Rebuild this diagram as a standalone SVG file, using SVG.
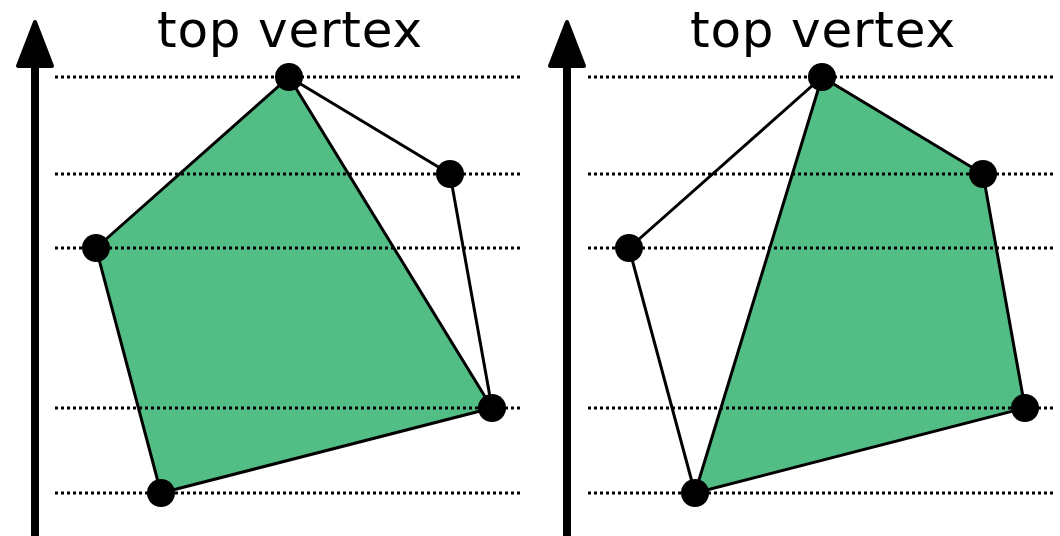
<svg xmlns="http://www.w3.org/2000/svg" width="1060" height="536" viewBox="0 0 1060 536">
<style>
.axis{stroke:#000;stroke-width:8;fill:none}
.head{fill:#000;stroke:#000;stroke-width:4;stroke-linejoin:round}
.dot{stroke:#000;stroke-width:3;stroke-dasharray:3 3;fill:none}
.fillp{fill:#52bd84;stroke:#000;stroke-width:3;stroke-linejoin:round}
.edge{stroke:#000;stroke-width:3;fill:none}
.v{fill:#000}
.lbl{font-family:"DejaVu Sans","Open Sans",sans-serif;font-size:50px;fill:#000}
</style>
<rect width="1060" height="536" fill="#fff"/>
<g id="left-panel">
<g id="left-axis">
<line class="axis" x1="35" y1="536" x2="35" y2="62"/>
<polygon class="head" points="35,22 18,66 52,66"/>
</g>
<g id="left-polygon">
<polygon class="fillp" points="289,77 96,248 161,493 492,408"/>
</g>
<g id="left-levels">
<line class="dot" x1="55" y1="77" x2="522" y2="77"/>
<line class="dot" x1="55" y1="174" x2="522" y2="174"/>
<line class="dot" x1="55" y1="248" x2="522" y2="248"/>
<line class="dot" x1="55" y1="408" x2="522" y2="408"/>
<line class="dot" x1="55" y1="493" x2="522" y2="493"/>
</g>
<g id="left-connectors">
<line class="edge" x1="289" y1="77" x2="450" y2="174"/>
<line class="edge" x1="450" y1="174" x2="492" y2="408"/>
</g>
<g id="left-vertices">
<circle class="v" cx="289" cy="77" r="14"/>
<circle class="v" cx="450" cy="174" r="14"/>
<circle class="v" cx="96" cy="248" r="14"/>
<circle class="v" cx="492" cy="408" r="14"/>
<circle class="v" cx="161" cy="493" r="14"/>
</g>
<text class="lbl" x="157" y="47" textLength="265" lengthAdjust="spacing">top vertex</text>
</g>
<g id="right-panel">
<g id="right-axis">
<line class="axis" x1="567" y1="536" x2="567" y2="62"/>
<polygon class="head" points="567,22 550,66 584,66"/>
</g>
<g id="right-polygon">
<polygon class="fillp" points="822,77 983,174 1025,408 695,493"/>
</g>
<g id="right-levels">
<line class="dot" x1="588" y1="77" x2="1055" y2="77"/>
<line class="dot" x1="588" y1="174" x2="1055" y2="174"/>
<line class="dot" x1="588" y1="248" x2="1055" y2="248"/>
<line class="dot" x1="588" y1="408" x2="1055" y2="408"/>
<line class="dot" x1="588" y1="493" x2="1055" y2="493"/>
</g>
<g id="right-connectors">
<line class="edge" x1="822" y1="77" x2="629" y2="248"/>
<line class="edge" x1="629" y1="248" x2="695" y2="493"/>
</g>
<g id="right-vertices">
<circle class="v" cx="822" cy="77" r="14"/>
<circle class="v" cx="983" cy="174" r="14"/>
<circle class="v" cx="629" cy="248" r="14"/>
<circle class="v" cx="1025" cy="408" r="14"/>
<circle class="v" cx="695" cy="493" r="14"/>
</g>
<text class="lbl" x="690" y="47" textLength="265" lengthAdjust="spacing">top vertex</text>
</g>
</svg>
